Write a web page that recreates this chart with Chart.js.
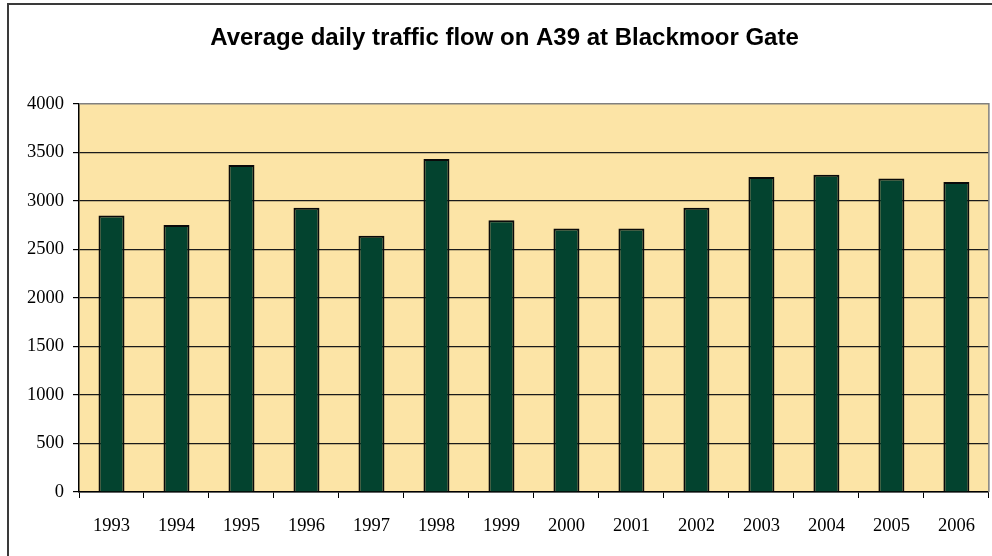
<!DOCTYPE html>
<html>
<head>
<meta charset="utf-8">
<script src="https://cdn.jsdelivr.net/npm/chart.js@4.4.0/dist/chart.umd.min.js"></script>
<style>
  html, body { margin: 0; padding: 0; background: #fff; overflow: hidden; }
  #wrap { position: relative; width: 992px; height: 556px; overflow: hidden; }
  #frame { position: absolute; left: 7px; top: 3px; width: 1100px; height: 700px; border: 2px solid #3a3a3a; }
  canvas { position: absolute; left: 0; top: 0; }
</style>
</head>
<body>
<div id="wrap">
  <div id="frame"></div>
  <canvas id="chart" width="992" height="556"></canvas>
</div>
<script>
// years on the x axis
const years = ['1993','1994','1995','1996','1997','1998','1999','2000','2001','2002','2003','2004','2005','2006'];
// average daily flow (vehicles)
const flow = [2850, 2750, 3370, 2930, 2640, 3430, 2800, 2715, 2715, 2930, 3245, 3270, 3230, 3195];

const chartTitle = 'Average daily traffic flow on A39 at Blackmoor Gate';
const yMin = 0, yMax = 4000, yStep = 500;

// plot background + grey top/right frame like the excel chart
const plotFrame = {
  id: 'plotFrame',
  beforeDraw(chart) {
    const a = chart.chartArea, ctx = chart.ctx;
    ctx.save();
    ctx.fillStyle = '#fce4a6';
    ctx.fillRect(a.left, a.top, a.right - a.left, a.bottom - a.top);
    ctx.restore();
  },
  afterDraw(chart) {
    const a = chart.chartArea, ctx = chart.ctx;
    ctx.save();
    ctx.strokeStyle = '#808080';
    ctx.lineWidth = 1.5;
    ctx.beginPath();
    ctx.moveTo(a.left, a.top);
    ctx.lineTo(a.right, a.top);
    ctx.lineTo(a.right, a.bottom);
    ctx.stroke();
    ctx.restore();
  }
};

const serif = '"Liberation Serif", "Times New Roman", serif';

new Chart(document.getElementById('chart'), {
  type: 'bar',
  data: {
    labels: years,
    datasets: [{
      data: flow,
      backgroundColor: '#03432f',
      borderColor: '#0a0a0a',
      borderWidth: 2,
      barPercentage: 0.4,
      categoryPercentage: 1.0
    }]
  },
  options: {
    responsive: false,
    animation: false,
    layout: { padding: { left: 20, right: 3, top: 0, bottom: 0 } },
    plugins: {
      legend: { display: false },
      tooltip: { enabled: false },
      title: {
        display: true,
        text: chartTitle,
        color: '#000',
        font: { family: '"Liberation Sans", Arial, sans-serif', size: 24, weight: 'bold', lineHeight: 1.2 },
        padding: { top: 24, bottom: 51 }
      }
    },
    scales: {
      x: {
        grid: { offset: true, drawOnChartArea: false, tickLength: 6, tickColor: '#000', lineWidth: 1 },
        border: { color: '#000', width: 1.5 },
        ticks: {
          color: '#000',
          padding: 17,
          maxRotation: 0,
          font: { family: serif, size: 18.5 }
        },
        afterFit(scale) { scale.height = 64; }
      },
      y: {
        min: yMin,
        max: yMax,
        grid: {
          color: ctx => (ctx.tick && ctx.tick.value === yMax) ? 'rgba(0,0,0,0)' : '#1a1a1a',
          tickColor: '#000',
          tickLength: 6,
          lineWidth: 1.2
        },
        border: { color: '#000', width: 1.5 },
        ticks: {
          stepSize: yStep,
          color: '#000',
          padding: 9,
          font: { family: serif, size: 18.5 },
          callback: v => String(v)
        },
        afterFit(scale) { scale.width = 59; }
      }
    }
  },
  plugins: [plotFrame]
});
</script>
</body>
</html>
